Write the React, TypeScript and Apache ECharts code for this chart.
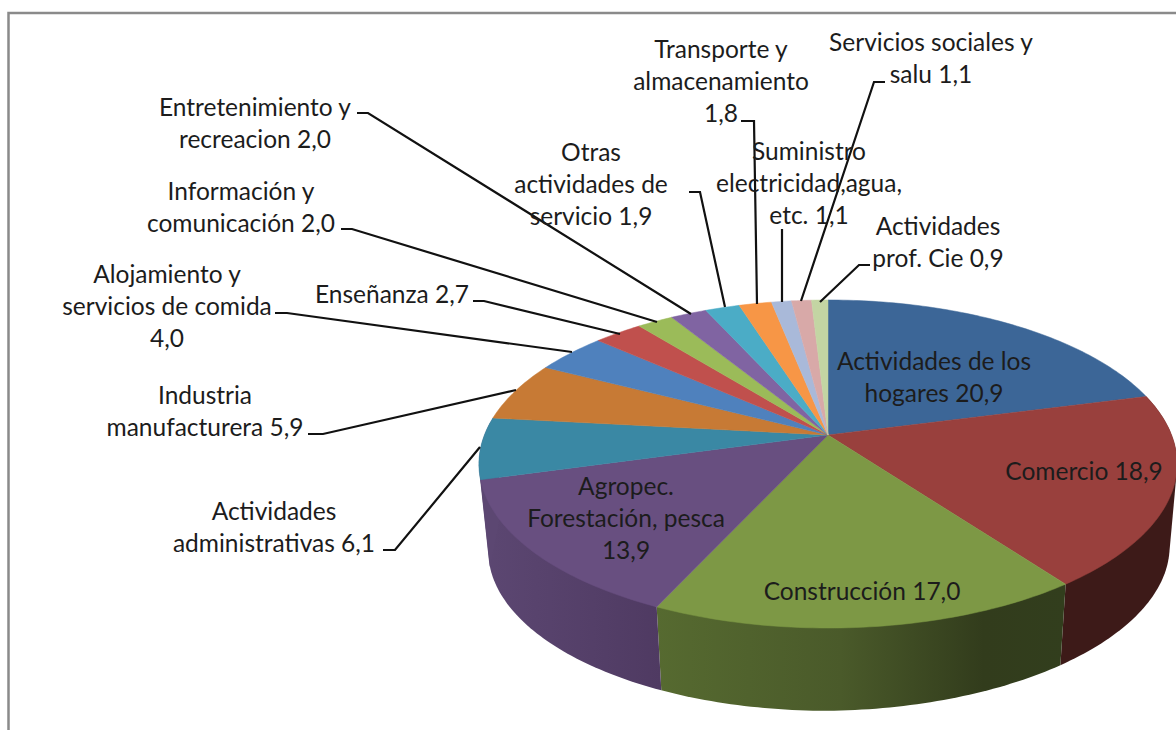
import React, { useEffect, useRef } from "react";
import * as echarts from "echarts";

// Data
const categories = [
  "Actividades de los\nhogares ",
  "Comercio ",
  "Construcción ",
  "Agropec.\nForestación, pesca\n",
  "Actividades\nadministrativas ",
  "Industria\nmanufacturera ",
  "Alojamiento y\nservicios de comida\n",
  "Enseñanza ",
  "Información y\ncomunicación ",
  "Entretenimiento y\nrecreacion ",
  "Otras\nactividades de\nservicio ",
  "Transporte y\nalmacenamiento\n",
  "Suministro\nelectricidad,agua,\netc. ",
  "Servicios sociales y\nsalu ",
  "Actividades\nprof. Cie ",
];
const values = [20.9, 18.9, 17.0, 13.9, 6.1, 5.9, 4.0, 2.7, 2.0, 2.0, 1.9, 1.8, 1.1, 1.1, 0.9];

// Styles
const topColors = [
  "#3c6697", "#99403d", "#7d9845", "#684f80", "#3a88a4", "#c77a35", "#4f81bd", "#c0504d",
  "#9bbb59", "#8064a2", "#4bacc6", "#f79646", "#a9b9d9", "#d8a9a8", "#c3d5a3",
];
const wallStops: ([number, string][] | null)[] = [
  null,
  [[0, "#3d1a18"], [1, "#3d1a18"]],
  [[0, "#566a30"], [0.45, "#4a5a2a"], [0.8, "#323c1c"], [1, "#323e1d"]],
  [[0, "#5c4772"], [1, "#4f3a62"]],
  [[0, "#5c4772"], [1, "#5c4772"]],
  null, null, null, null, null, null, null, null, null, null,
];

// Label and leader layout (centre x, centre y of the block; leader polyline)
const labelPos: [number, number][] = [
  [934, 376], [1084, 470], [862, 590], [626, 517], [274, 526], [205, 410], [167, 305], [392, 293],
  [241, 206], [255, 122], [591, 183], [721, 80], [809, 182], [931, 57], [938, 241],
];
const leaders: (number[][] | null)[] = [
  null, null, null, null,
  [[383, 550], [395, 550], [480, 447]],
  [[308, 434], [323, 434], [516, 390]],
  [[275, 313], [287, 313], [572, 352]],
  [[473, 301], [484, 301], [620, 334]],
  [[341, 229], [352, 229], [657, 322]],
  [[357, 113], [368, 113], [691, 314]],
  [[689, 192], [700, 192], [725, 307]],
  [[741, 121], [754, 121], [757, 304]],
  [[782, 229], [782, 302]],
  [[885, 82], [874, 82], [801, 301]],
  [[870, 265], [859, 265], [820, 302]],
];

const CX = 828, CY = 435, PK = 0.1768, PA = 158.9, PB = 343.6;
const LOW_CY = 523, LOW_S = 0.973, LOW_TILT_Y = 5, LOW_TILT_X = 2;
const VIEW_WARP = (0.7 * Math.PI) / 180;
const total = values.reduce((s, v) => s + v, 0);

function project(t: number, lower: boolean): number[] {
  const h = Math.sin(t / 2);
  const theta = t + VIEW_WARP * h * h;
  const X = Math.sin(theta), Y = -Math.cos(theta);
  const d = 1 - PK * Y;
  if (!lower) return [CX + (PB * X) / d, CY + (PA * Y) / d];
  const right = Math.max(0, X);
  return [
    CX + (LOW_S * PB * X) / d + LOW_TILT_X * right,
    LOW_CY + (LOW_S * PA * Y) / d - LOW_TILT_Y * right,
  ];
}
function angleRange(i: number): [number, number] {
  let before = 0;
  for (let j = 0; j < i; j++) before += values[j];
  return [(before / total) * Math.PI * 2, ((before + values[i]) / total) * Math.PI * 2];
}
function arc(a0: number, a1: number, lower: boolean): number[][] {
  const n = Math.max(2, Math.ceil((a1 - a0) / (Math.PI / 180)));
  const pts: number[][] = [];
  for (let k = 0; k <= n; k++) pts.push(project(a0 + ((a1 - a0) * k) / n, lower));
  return pts;
}
function hull(points: number[][]): number[][] {
  const p = points.slice().sort((a, b) => a[0] - b[0] || a[1] - b[1]);
  const cross = (o: number[], a: number[], b: number[]) =>
    (a[0] - o[0]) * (b[1] - o[1]) - (a[1] - o[1]) * (b[0] - o[0]);
  const build = (list: number[][]) => {
    const out: number[][] = [];
    for (const q of list) {
      while (out.length >= 2 && cross(out[out.length - 2], out[out.length - 1], q) <= 0) out.pop();
      out.push(q);
    }
    out.pop();
    return out;
  };
  return build(p).concat(build(p.slice().reverse()));
}
const fmt = (v: number) => v.toFixed(1).replace(".", ",");

export default function App() {
  const ref = useRef<HTMLDivElement>(null);
  useEffect(() => {
    document.body.style.margin = "0";
    const chart = echarts.init(ref.current!, null, { renderer: "svg" });
    const rows = values.map((v, i) => [i, v]);
    const font = '24.5px Lato, "Noto Sans", sans-serif';
    const graphics: any[] = [
      {
        type: "polyline", silent: true, z: 1,
        shape: { points: [[8.5, 730], [8.5, 13], [1176, 13]] },
        style: { stroke: "#8a8a8a", lineWidth: 2.5, fill: "none" },
      },
    ];
    leaders.forEach((pts) => {
      if (pts) graphics.push({
        type: "polyline", silent: true, z: 20,
        shape: { points: pts },
        style: { stroke: "#111", lineWidth: 2.2, fill: "none" },
      });
    });
    categories.forEach((c, i) => {
      graphics.push({
        type: "text", silent: true, z: 30,
        x: labelPos[i][0], y: labelPos[i][1],
        style: {
          text: c + fmt(values[i]), font, fill: "#1c1c1c",
          align: "center", verticalAlign: "middle", lineHeight: 32,
        },
      });
    });
    chart.setOption({
      animation: false,
      backgroundColor: "#fff",
      tooltip: { show: false },
      graphic: graphics,
      series: [
        {
          type: "custom", coordinateSystem: "none", silent: true, z: 2, data: rows,
          renderItem: (_: any, api: any) => {
            const i = api.value(0);
            const s = wallStops[i];
            if (!s) return { type: "group", children: [] };
            const [a0, a1] = angleRange(i);
            return {
              type: "polygon",
              shape: { points: hull(arc(a0, a1, false).concat(arc(a0, a1, true))) },
              style: {
                fill: {
                  type: "linear", x: 0, y: 0, x2: 1, y2: 0,
                  colorStops: s.map(([offset, color]) => ({ offset, color })),
                },
              },
            };
          },
        },
        {
          type: "custom", coordinateSystem: "none", silent: true, z: 3, data: rows,
          renderItem: (_: any, api: any) => {
            const i = api.value(0);
            const [a0, a1] = angleRange(i);
            return {
              type: "polygon",
              shape: { points: [[CX, CY]].concat(arc(a0, a1, false)) },
              style: { fill: topColors[i], stroke: topColors[i], lineWidth: 0.5 },
            };
          },
        },
      ],
    });
    return () => chart.dispose();
  }, []);
  return <div ref={ref} style={{ width: 1176, height: 730 }} />;
}
